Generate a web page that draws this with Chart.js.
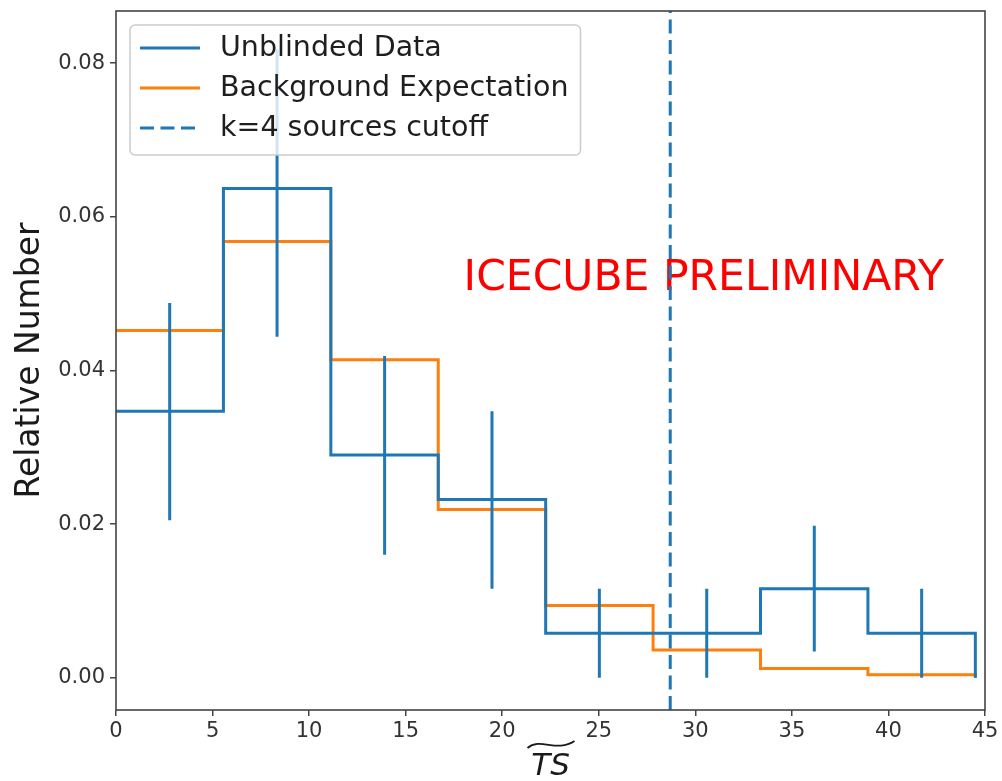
<!DOCTYPE html>
<html>
<head>
<meta charset="utf-8">
<script src="https://cdn.jsdelivr.net/npm/chart.js@4.4.1/dist/chart.umd.min.js"></script>
<style>
  html, body { margin: 0; padding: 0; background: #fff; }
  #wrap { width: 1002px; height: 781px; position: relative; }
</style>
</head>
<body>
<div id="wrap"><canvas id="tsChart"></canvas></div>
<script>
// TS histogram: unblinded data vs background expectation
var binEdges = [0, 5.5625, 11.125, 16.6875, 22.25, 27.8125, 33.375, 38.9375, 44.5];
var binCenters = [2.78, 8.34, 13.91, 19.47, 25.03, 30.59, 36.16, 41.72];
var unblinded = [0.0347, 0.0637, 0.0290, 0.0232, 0.0058, 0.0058, 0.0116, 0.0058];
var errLow = [0.0205, 0.0444, 0.0160, 0.0116, 0.0000, 0.0000, 0.0034, 0.0000];
var errHigh = [0.0488, 0.0818, 0.0419, 0.0347, 0.0116, 0.0116, 0.0198, 0.0116];
var background = [0.0452, 0.0568, 0.0414, 0.0219, 0.0094, 0.0036, 0.0012, 0.0004];
var cutoffTS = 28.7;
var xTicks = [0, 5, 10, 15, 20, 25, 30, 35, 40, 45];
var yTicks = [0.00, 0.02, 0.04, 0.06, 0.08];
var yMin = -0.0042, yMax = 0.0868;

var BLUE = '#1f77b4', ORANGE = '#ff7f0e';
var FONT = "'DejaVu Sans', sans-serif";

// step outline: one point per left edge, then close at the last edge
function stepPoints(values) {
	var pts = [];
	for (var i = 0; i < values.length; i++) {
		pts.push({ x: binEdges[i], y: values[i] });
	}
	pts.push({ x: binEdges[binEdges.length - 1], y: values[values.length - 1] });
	pts.push({ x: binEdges[binEdges.length - 1], y: 0 });
	return pts;
}

// vertical error segments, split with null gaps
function errorPoints() {
	var pts = [];
	for (var i = 0; i < binCenters.length; i++) {
		pts.push({ x: binCenters[i], y: errLow[i] });
		pts.push({ x: binCenters[i], y: errHigh[i] });
		pts.push({ x: binCenters[i], y: null });
	}
	return pts;
}

var framePlugin = {
	id: 'frameAndText',
	beforeDatasetsDraw: function(chart) {
		var ctx = chart.ctx, xs = chart.scales.x, ys = chart.scales.y;
		ctx.save();
		ctx.fillStyle = '#ff0000';
		ctx.font = '42.5px ' + FONT;
		ctx.textAlign = 'left';
		ctx.textBaseline = 'alphabetic';
		ctx.fillText('ICECUBE PRELIMINARY', xs.getPixelForValue(18), ys.getPixelForValue(0.0505));
		ctx.restore();
	},
	afterDatasetsDraw: function(chart) {
		var ctx = chart.ctx, a = chart.chartArea;
		ctx.save();
		// axes frame
		ctx.strokeStyle = '#444';
		ctx.lineWidth = 1.6;
		ctx.strokeRect(a.left, a.top, a.right - a.left, a.bottom - a.top);

		// x label: TS with a wide tilde
		var cx = (a.left + a.right) / 2;
		ctx.fillStyle = '#1a1a1a';
		ctx.font = 'italic 31px ' + FONT;
		ctx.textAlign = 'center';
		ctx.textBaseline = 'alphabetic';
		ctx.fillText('TS', cx, 775);
		ctx.strokeStyle = '#1a1a1a';
		ctx.lineWidth = 1.8;
		ctx.beginPath();
		ctx.moveTo(cx - 23, 748);
		ctx.bezierCurveTo(cx - 10, 737, cx + 6, 753, cx + 24, 741);
		ctx.stroke();

		// legend box
		var items = chart.data.datasets.filter(function(d) { return d.label; });
		var boxX = 130, boxY = 25, rowH = 40, firstY = 48;
		ctx.font = '28.5px ' + FONT;
		var maxW = 0;
		items.forEach(function(d) { maxW = Math.max(maxW, ctx.measureText(d.label).width); });
		var boxW = 220 + maxW + 12 - boxX;
		var boxH = 130;
		ctx.fillStyle = 'rgba(255,255,255,0.8)';
		ctx.strokeStyle = '#cccccc';
		ctx.lineWidth = 1.5;
		ctx.beginPath();
		ctx.roundRect(boxX, boxY, boxW, boxH, 5);
		ctx.fill();
		ctx.stroke();
		items.forEach(function(d, i) {
			var y = firstY + i * rowH;
			ctx.strokeStyle = d.borderColor;
			ctx.lineWidth = 3;
			ctx.setLineDash(d.borderDash || []);
			ctx.beginPath();
			ctx.moveTo(140, y);
			ctx.lineTo(200, y);
			ctx.stroke();
			ctx.setLineDash([]);
			ctx.fillStyle = '#1e1e1e';
			ctx.textAlign = 'left';
			ctx.textBaseline = 'middle';
			ctx.fillText(d.label, 220, y + 1);
		});
		ctx.restore();
	}
};

var ctx = document.getElementById('tsChart');
var tsChart = new Chart(ctx, {
	type: 'line',
	data: {
		datasets: [
			{
				label: 'Unblinded Data',
				data: stepPoints(unblinded),
				stepped: 'before',
				borderColor: BLUE,
				borderWidth: 3,
				pointRadius: 0,
				fill: false,
				order: 3
			},
			{
				label: 'Background Expectation',
				data: stepPoints(background),
				stepped: 'before',
				borderColor: ORANGE,
				borderWidth: 3,
				pointRadius: 0,
				fill: false,
				order: 4
			},
			{
				label: 'k=4 sources cutoff',
				data: [{ x: cutoffTS, y: yMin }, { x: cutoffTS, y: yMax }],
				borderColor: BLUE,
				borderWidth: 3,
				borderDash: [14, 6.5],
				pointRadius: 0,
				fill: false,
				order: 1
			},
			{
				label: '',
				data: errorPoints(),
				borderColor: BLUE,
				borderWidth: 3,
				pointRadius: 0,
				spanGaps: false,
				fill: false,
				order: 2
			}
		]
	},
	options: {
		responsive: true,
		maintainAspectRatio: false,
		animation: false,
		layout: { padding: { top: 11, right: 17, left: 0, bottom: 0 } },
		plugins: {
			legend: { display: false },
			tooltip: { enabled: false }
		},
		scales: {
			x: {
				type: 'linear',
				min: 0,
				max: 45,
				afterBuildTicks: function(s) { s.ticks = xTicks.map(function(v) { return { value: v }; }); },
				afterFit: function(s) { s.height = 71; s.paddingLeft = 0; s.paddingRight = 0; },
				border: { display: false },
				grid: { drawOnChartArea: false, drawTicks: true, tickLength: 6, color: '#444', lineWidth: 1.5 },
				ticks: {
					color: '#333',
					font: { family: FONT, size: 21 },
					padding: 3,
					maxRotation: 0,
					callback: function(v) { return v; }
				}
			},
			y: {
				type: 'linear',
				min: yMin,
				max: yMax,
				afterBuildTicks: function(s) { s.ticks = yTicks.map(function(v) { return { value: v }; }); },
				afterFit: function(s) { s.width = 116; s.paddingTop = 0; s.paddingBottom = 0; },
				border: { display: false },
				grid: { drawOnChartArea: false, drawTicks: true, tickLength: 6, color: '#444', lineWidth: 1.5 },
				ticks: {
					color: '#333',
					font: { family: FONT, size: 21 },
					padding: 5,
					callback: function(v) { return v.toFixed(2); }
				},
				title: {
					display: true,
					text: 'Relative Number',
					color: '#1a1a1a',
					font: { family: FONT, size: 33 },
					padding: { top: 11, bottom: 0 }
				}
			}
		}
	},
	plugins: [framePlugin]
});
</script>
</body>
</html>
